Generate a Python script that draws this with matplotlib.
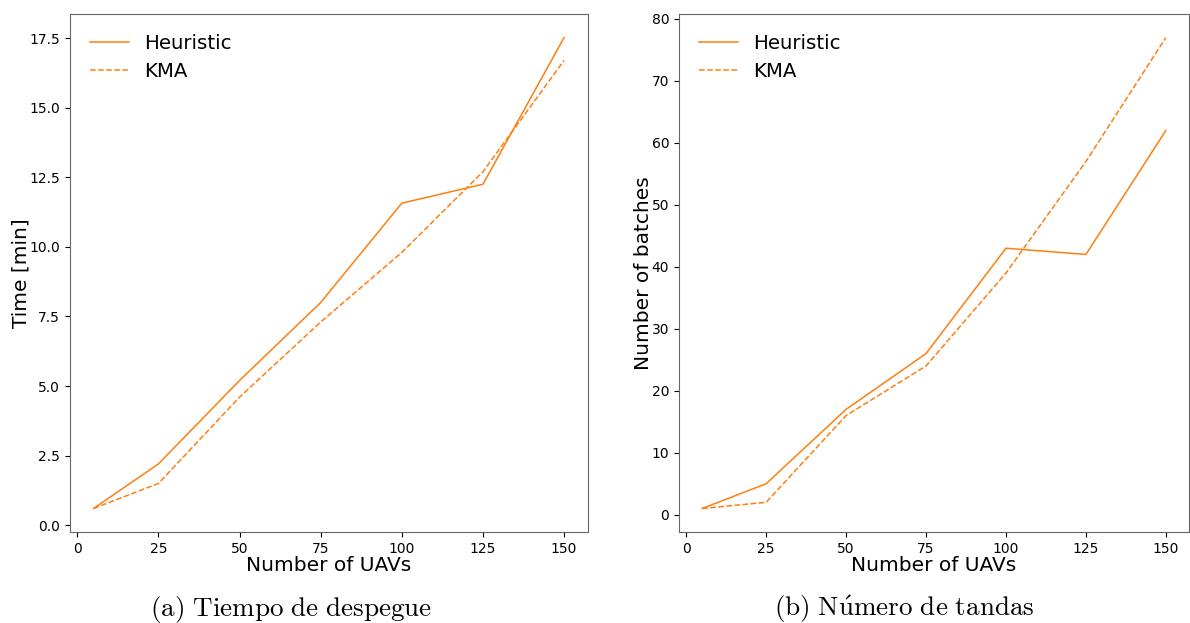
import numpy as np
import matplotlib
matplotlib.use("Agg")
import matplotlib.pyplot as plt

plt.rcParams["mathtext.fontset"] = "cm"

uavs = [5, 25, 50, 75, 100, 125, 150]

# tiempo de despegue [min]
time_heur = [0.6, 2.2, 5.2, 8.0, 11.57, 12.25, 17.52]
time_kma = [0.6, 1.5, 4.6, 7.3, 9.8, 12.7, 16.7]

# numero de tandas
batch_heur = [1, 5, 17, 26, 43, 42, 62]
batch_kma = [1, 2, 16, 24, 39, 57, 77]

captions = [r"$\mathrm{(a)\ Tiempo\ de\ despegue}$",
            r"$\mathrm{(b)\ N\acute{u}mero\ de\ tandas}$"]
ylabels = ["Time [min]", "Number of batches"]

fig = plt.figure(figsize=(11.9, 6.23), dpi=100)
ax1 = fig.add_axes([0.0588, 0.146, 0.435, 0.8315])
ax2 = fig.add_axes([0.5706, 0.146, 0.4286, 0.8315])

col = "#ff7f0e"
for ax, h, k, yl in [(ax1, time_heur, time_kma, ylabels[0]),
                     (ax2, batch_heur, batch_kma, ylabels[1])]:
    ax.plot(uavs, h, "-", color=col, lw=1.1, label="Heuristic")
    ax.plot(uavs, k, "--", color=col, lw=1.1, label="KMA")
    ax.set_xlabel("Number of UAVs", fontsize=14.5, labelpad=0)
    ax.set_ylabel(yl, fontsize=14.5)
    ax.set_xticks([0, 25, 50, 75, 100, 125, 150])
    ax.tick_params(labelsize=10)
    for s in ax.spines.values():
        s.set_color("#666666")
    ax.legend(loc="upper left", fontsize=14.2, frameon=False,
              handlelength=2.0, handletextpad=0.75, borderaxespad=0.6,
              labelspacing=0.45)

ax1.yaxis.set_label_coords(-0.077, 0.5)
ax2.yaxis.set_label_coords(-0.051, 0.5)
ax1.set_yticks([0.0, 2.5, 5.0, 7.5, 10.0, 12.5, 15.0, 17.5])
ax2.set_yticks([0, 10, 20, 30, 40, 50, 60, 70, 80])

fig.text(0.245, 0.012, captions[0], ha="center", va="baseline", fontsize=19.5)
fig.text(0.76, 0.012, captions[1], ha="center", va="baseline", fontsize=19.5)

fig.savefig("out.png", dpi=100)
